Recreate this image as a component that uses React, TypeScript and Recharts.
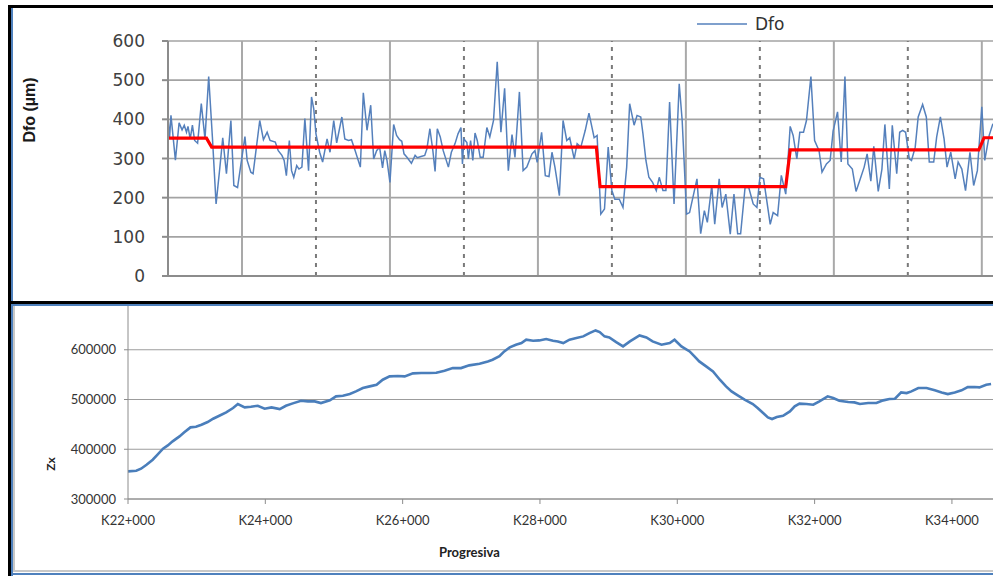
import { CartesianGrid, Legend, Line, LineChart, ReferenceLine, XAxis, YAxis } from "recharts";

// Dfo readings (top chart): position along the section, in grid spacings
const dfoPos = [
  0, 0.02, 0.04, 0.1, 0.15, 0.19, 0.22, 0.25, 0.27, 0.3, 0.33, 0.36, 0.4, 0.45, 0.5, 0.55, 0.6, 0.65, 0.7, 0.74, 0.79, 0.85, 0.89, 0.94,
  1.04, 1.07, 1.12, 1.15, 1.24, 1.29, 1.34, 1.38, 1.45, 1.49, 1.54, 1.57, 1.6, 1.64, 1.67, 1.7, 1.74, 1.77, 1.81, 1.85, 1.9, 1.94, 1.97,
  2.0, 2.05, 2.09, 2.15, 2.19, 2.24, 2.28, 2.35, 2.39, 2.44, 2.48, 2.53, 2.6, 2.64, 2.69, 2.74, 2.78, 2.82, 2.86, 2.9, 2.93, 2.96,
  3.0, 3.05, 3.09, 3.13, 3.16, 3.19, 3.23, 3.29, 3.34, 3.37, 3.42, 3.47, 3.5, 3.54, 3.58, 3.61, 3.64, 3.68, 3.72, 3.79, 3.83, 3.88, 3.92, 3.96, 3.98,
  4.0, 4.04, 4.06, 4.09, 4.12, 4.15, 4.18, 4.22, 4.26, 4.31, 4.35, 4.4, 4.45, 4.5, 4.55, 4.6, 4.65, 4.69, 4.75, 4.8, 4.85, 4.92, 4.96, 4.99,
  5.05, 5.1, 5.15, 5.19, 5.23, 5.29, 5.34, 5.39, 5.43, 5.49, 5.53, 5.58, 5.64, 5.69, 5.76, 5.8, 5.85, 5.9, 5.95,
  6.0, 6.04, 6.1, 6.15, 6.2, 6.24, 6.3, 6.34, 6.39, 6.42, 6.46, 6.5, 6.55, 6.6, 6.64, 6.69, 6.73, 6.78, 6.84, 6.91, 6.95,
  7.01, 7.05, 7.15, 7.2, 7.25, 7.29, 7.35, 7.39, 7.45, 7.49, 7.54, 7.6, 7.65, 7.7, 7.74, 7.8, 7.85, 7.91, 7.96,
  8.0, 8.05, 8.09, 8.14, 8.18, 8.24, 8.29, 8.35, 8.41, 8.45, 8.5, 8.54, 8.59, 8.63, 8.69, 8.74, 8.8, 8.84, 8.9, 8.95, 8.99,
  9.05, 9.1, 9.15, 9.19, 9.25, 9.3, 9.35, 9.41, 9.45, 9.5, 9.54, 9.6, 9.65, 9.69, 9.75, 9.79, 9.85, 9.89, 9.93, 9.97,
  10.02, 10.05, 10.1, 10.14, 10.2, 10.25, 10.29, 10.35, 10.39, 10.44, 10.49, 10.53, 10.58, 10.64, 10.68, 10.73, 10.78, 10.84, 10.89, 10.94, 11.0, 11.04, 11.1, 11.15,
];
const dfoVal = [
  406, 350, 410, 296, 391, 373, 385, 367, 382, 350, 385, 346, 339, 440, 350, 509, 355, 184, 275, 353, 261, 397, 231, 226,
  356, 295, 265, 261, 397, 348, 367, 346, 342, 320, 308, 295, 256, 346, 269, 252, 282, 273, 278, 402, 269, 457, 427,
  363, 316, 291, 350, 316, 397, 340, 406, 350, 346, 348, 320, 278, 468, 372, 436, 299, 320, 329, 276, 320, 295,
  239, 387, 359, 348, 344, 312, 303, 288, 308, 302, 305, 308, 325, 376, 320, 267, 376, 355, 320, 278, 316, 338, 363, 379, 286,
  350, 341, 299, 346, 295, 365, 346, 303, 303, 379, 355, 397, 547, 367, 479, 269, 361, 303, 470, 269, 278, 312, 320, 290,
  367, 256, 254, 316, 278, 205, 397, 346, 353, 299, 338, 329, 372, 416, 353, 359, 158, 171, 329,
  218, 196, 196, 175, 278, 440, 385, 410, 406, 363, 295, 252, 239, 218, 252, 218, 218, 444, 184, 491, 397,
  158, 162, 248, 108, 167, 137, 231, 132, 248, 175, 209, 107, 209, 108, 108, 226, 226, 184, 175,
  252, 248, 197, 132, 162, 154, 257, 209, 382, 359, 299, 367, 367, 397, 509, 346, 320, 265, 286, 295, 370,
  419, 291, 509, 286, 273, 216, 244, 278, 312, 242, 331, 216, 273, 387, 222, 385, 261, 367, 372, 367,
  299, 295, 329, 406, 438, 406, 291, 291, 355, 406, 350, 278, 316, 248, 291, 273, 218, 316, 231, 269, 432, 295, 359, 389,
];

// homogeneous section averages (red step line)
const stepPos = [0, 0.52, 0.59, 5.79, 5.84, 8.35, 8.41, 10.96, 11.03, 11.3];
const stepVal = [352, 352, 329, 329, 228, 228, 322, 322, 353, 353];

const dfoTicks = [0, 100, 200, 300, 400, 500, 600];
const gridSolid = [1, 3, 5, 7, 9, 11];
const gridDashed = [2, 4, 6, 8, 10];

// elevation profile (bottom chart)
const zxPos = [
  22000, 22120, 22190, 22270, 22360, 22430, 22510, 22580, 22650, 22750, 22820, 22910, 22990, 23070, 23160, 23240, 23330, 23430,
  23530, 23600, 23700, 23790, 23890, 23990, 24090, 24210, 24300, 24400, 24520, 24620, 24720, 24810, 24940, 25030, 25130, 25230,
  25320, 25420, 25520, 25620, 25710, 25810, 25930, 26030, 26150, 26270, 26390, 26490, 26610, 26730, 26850, 26970, 27120, 27240,
  27310, 27410, 27480, 27560, 27650, 27730, 27800, 27900, 27990, 28090, 28190, 28260, 28340, 28430, 28530, 28630, 28720, 28810,
  28870, 28940, 29010, 29110, 29210, 29310, 29450, 29550, 29640, 29770, 29890, 29960, 30060, 30180, 30250, 30320, 30420, 30520,
  30620, 30710, 30790, 30880, 30980, 31100, 31170, 31250, 31320, 31380, 31450, 31540, 31640, 31710, 31780, 31880, 31980, 32070,
  32190, 32270, 32360, 32490, 32580, 32660, 32780, 32900, 33000, 33090, 33170, 33260, 33340, 33410, 33510, 33630, 33750, 33850,
  33940, 34040, 34140, 34230, 34330, 34400, 34500, 34570,
];
const zxVal = [
  355600, 356900, 360900, 369000, 379000, 389100, 401100, 407800, 415900, 425900, 434000, 444000, 445300, 449400, 454700, 461400, 467400, 474100,
  482900, 490900, 484200, 485500, 487500, 481500, 484200, 480800, 487500, 492200, 497600, 496200, 496200, 492900, 498300, 506300, 507600, 511000,
  516300, 523000, 526400, 529700, 539800, 546500, 547200, 546500, 552500, 553200, 553200, 553900, 557900, 563200, 563200, 568600, 571900, 576600,
  580000, 587000, 596700, 604700, 610100, 613500, 620200, 618200, 618800, 621500, 618200, 616800, 613500, 620200, 623500, 626900, 633600, 638900,
  635600, 626900, 624800, 615500, 606800, 616800, 628900, 624800, 616800, 610100, 613500, 620200, 606800, 596700, 586700, 576600, 566600, 556500,
  539800, 526400, 516300, 508300, 499600, 490900, 482900, 472800, 464100, 460800, 464800, 467400, 476100, 486200, 491600, 490900, 489500, 496200,
  506300, 502900, 497600, 494900, 494200, 490900, 492900, 492900, 498300, 500900, 501600, 514300, 512900, 516300, 523000, 523000, 518400, 514300,
  511000, 514300, 518400, 525000, 525000, 524400, 529700, 531100,
];
const zxTicks = [300000, 400000, 500000, 600000];
const kmTicks = [22000, 24000, 26000, 28000, 30000, 32000, 34000];

const dfoData = dfoPos.map((x, i) => ({ x, dfo: dfoVal[i] }));
const stepData = stepPos.map((x, i) => ({ x, avg: stepVal[i] }));
const zxData = zxPos.map((x, i) => ({ x, zx: zxVal[i] }));

const TOP_FONT = "'DejaVu Sans', Verdana, sans-serif";
const BOTTOM_FONT = "Lato, 'Open Sans', sans-serif";

function DfoLegend(props: any) {
  // only the measured series goes in the legend, not the section average
  const items = (props.payload || []).filter((p: any) => p.type !== "none" && p.dataKey === "dfo");
  return (
    <div style={{ display: "flex", alignItems: "center", fontFamily: TOP_FONT, fontSize: 17, color: "#333", lineHeight: "20px" }}>
      {items.map((p: any) => (
        <span key={p.value} style={{ display: "flex", alignItems: "center", gap: 8 }}>
          <svg width={50} height={6}>
            <line x1={0} y1={3} x2={50} y2={3} stroke={p.color} strokeWidth={1.5} />
          </svg>
          {p.value}
        </span>
      ))}
    </div>
  );
}

function Bar({ style }: { style: React.CSSProperties }) {
  return <div style={{ position: "absolute", ...style }} />;
}

export default function App() {
  return (
    <div style={{ position: "absolute", left: 0, top: 0, width: 993, height: 576, overflow: "hidden", background: "#fff" }}>
      <div style={{ position: "absolute", left: 0, top: 0 }}>
        <LineChart width={1010} height={296} margin={{ top: 41, right: 6, bottom: 0, left: 0 }}>
          <CartesianGrid vertical={false} stroke="#a3a3a3" strokeWidth={1.6} />
          {gridSolid.map((g) => (
            <ReferenceLine key={`s${g}`} x={g} stroke="#a9a9a9" strokeWidth={2} />
          ))}
          {gridDashed.map((g) => (
            <ReferenceLine key={`d${g}`} x={g} stroke="#7a7a7a" strokeWidth={2} strokeDasharray="4 5" />
          ))}
          <XAxis
            type="number"
            dataKey="x"
            domain={[0, 11.3]}
            ticks={gridDashed}
            allowDataOverflow
            tick={false}
            tickSize={6}
            height={20}
            axisLine={{ stroke: "#8c8c8c", strokeWidth: 2 }}
            tickLine={{ stroke: "#7a7a7a", strokeWidth: 2 }}
          />
          <YAxis
            domain={[0, 600]}
            ticks={dfoTicks}
            width={168}
            tickSize={6}
            tickMargin={17}
            axisLine={{ stroke: "#8c8c8c", strokeWidth: 2 }}
            tickLine={{ stroke: "#8c8c8c", strokeWidth: 2 }}
            tick={{ fill: "#404040", fontSize: 17, fontFamily: TOP_FONT }}
          />
          <Line
            data={dfoData}
            dataKey="dfo"
            name="Dfo"
            type="linear"
            stroke="#5580bc"
            strokeWidth={1.5}
            dot={false}
            isAnimationActive={false}
          />
          <Line
            data={stepData}
            dataKey="avg"
            type="linear"
            stroke="#ff0000"
            strokeWidth={3.2}
            dot={false}
            legendType="none"
            isAnimationActive={false}
          />
          <Legend
            verticalAlign="middle"
            content={DfoLegend}
            wrapperStyle={{ top: 14, left: 697, width: 150, right: "auto", bottom: "auto" }}
          />
        </LineChart>
      </div>
      <div
        style={{
          position: "absolute",
          left: -20,
          top: 100,
          width: 100,
          textAlign: "center",
          transform: "rotate(-90deg)",
          fontFamily: "'Liberation Sans', Arial, sans-serif",
          fontWeight: "bold",
          fontSize: 16,
          color: "#1a1a1a",
          lineHeight: "20px",
        }}
      >
        Dfo (µm)
      </div>

      <div style={{ position: "absolute", left: 0, top: 305 }}>
        <LineChart width={1010} height={230} margin={{ top: 0, right: 10, bottom: 0, left: 0 }}>
          <CartesianGrid vertical={false} stroke="#9c9c9c" strokeWidth={1.2} />
          <XAxis
            type="number"
            dataKey="x"
            domain={[22000, 34700]}
            ticks={kmTicks}
            allowDataOverflow
            height={36}
            tickSize={5}
            tickMargin={12}
            tickFormatter={(v) => `K${v / 1000}+000`}
            axisLine={{ stroke: "#8c8c8c" }}
            tickLine={{ stroke: "#8c8c8c" }}
            tick={{ fill: "#333", fontSize: 13, fontFamily: BOTTOM_FONT }}
          />
          <YAxis
            domain={[300000, 690000]}
            ticks={zxTicks}
            allowDataOverflow
            width={128}
            tickSize={4}
            tickMargin={8}
            axisLine={{ stroke: "#8c8c8c" }}
            tickLine={{ stroke: "#8c8c8c" }}
            tick={{ fill: "#333", fontSize: 13, fontFamily: BOTTOM_FONT }}
          />
          <Line
            data={zxData}
            dataKey="zx"
            type="linear"
            stroke="#4a7ebb"
            strokeWidth={2.6}
            dot={false}
            isAnimationActive={false}
          />
        </LineChart>
      </div>
      <div
        style={{
          position: "absolute",
          left: 31,
          top: 456,
          width: 40,
          textAlign: "center",
          transform: "rotate(-90deg)",
          fontFamily: BOTTOM_FONT,
          fontWeight: "bold",
          fontSize: 12,
          color: "#222",
          lineHeight: "16px",
        }}
      >
        Zx
      </div>
      <div
        style={{
          position: "absolute",
          left: 439,
          top: 543,
          fontFamily: BOTTOM_FONT,
          fontWeight: "bold",
          fontSize: 13,
          color: "#222",
          lineHeight: "18px",
        }}
      >
        Progresiva
      </div>

      {/* panel frames */}
      <Bar style={{ left: 8, top: 5, width: 1000, height: 2.5, background: "#000" }} />
      <Bar style={{ left: 8, top: 5, width: 2.5, height: 580, background: "#000" }} />
      <Bar style={{ left: 10.5, top: 8, width: 2, height: 293, background: "#4f81bd" }} />
      <Bar style={{ left: 8, top: 300.5, width: 1000, height: 3.5, background: "#000" }} />
      <Bar style={{ left: 10.5, top: 304, width: 1000, height: 1.5, background: "#4f81bd" }} />
      <Bar style={{ left: 10.5, top: 304, width: 2.5, height: 272, background: "#4f81bd" }} />
      <Bar style={{ left: 13, top: 305.5, width: 2, height: 266, background: "#c8c8c8" }} />
      <Bar style={{ left: 13, top: 569.5, width: 1000, height: 2.5, background: "#c8c8c8" }} />
      <Bar style={{ left: 10.5, top: 572.5, width: 1000, height: 2.5, background: "#4f81bd" }} />
    </div>
  );
}
